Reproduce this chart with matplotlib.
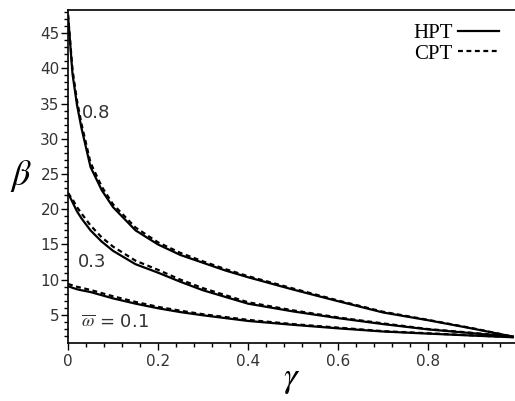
import matplotlib
matplotlib.use("Agg")
import matplotlib.pyplot as plt
from matplotlib.lines import Line2D
from matplotlib.ticker import MultipleLocator

# values
gamma = [0, 0.01, 0.02, 0.03, 0.05, 0.075, 0.1, 0.15, 0.2, 0.25, 0.3, 0.35, 0.4,
         0.5, 0.6, 0.7, 0.8, 0.9, 0.99]

hpt_08 = [47.6, 39.2, 34.8, 31.5, 26.0, 22.7, 20.3, 17.0, 15.0, 13.5, 12.4, 11.3, 10.35,
          8.6, 6.95, 5.35, 4.25, 3.05, 1.9]
cpt_08 = [47.6, 39.8, 35.4, 32.1, 26.6, 23.2, 20.7, 17.4, 15.3, 13.8, 12.6, 11.5, 10.5,
          8.75, 7.05, 5.45, 4.3, 3.1, 1.9]

hpt_03 = [22.3, 21.0, 19.7, 18.7, 17.0, 15.4, 14.1, 12.2, 11.0, 9.7, 8.5, 7.55, 6.6,
          5.5, 4.55, 3.7, 2.95, 2.4, 1.9]
cpt_03 = [22.3, 21.4, 20.3, 19.4, 17.7, 16.0, 14.7, 12.7, 11.4, 10.0, 8.8, 7.8, 6.8,
          5.65, 4.65, 3.8, 3.0, 2.45, 1.9]

hpt_01 = [9.1, 8.85, 8.65, 8.5, 8.25, 7.8, 7.35, 6.6, 5.95, 5.4, 4.95, 4.55, 4.15,
          3.6, 3.1, 2.65, 2.35, 2.07, 1.83]
cpt_01 = [9.4, 9.2, 9.0, 8.85, 8.55, 8.1, 7.65, 6.85, 6.15, 5.6, 5.1, 4.7, 4.3,
          3.7, 3.2, 2.7, 2.4, 2.1, 1.85]

curve_labels = ["0.8", "0.3", r"$\overline{\omega}$ = 0.1"]
label_pos = [(0.031, 33.7), (0.022, 12.5), (0.029, 4.0)]

plt.rcParams["mathtext.fontset"] = "stix"

fig = plt.figure(figsize=(5.15, 4.01), dpi=100)
ax = fig.add_axes([68 / 515, 1 - 343 / 401, 447 / 515, 333 / 401])

dash = (0, (2.2, 1.6))
for hpt, cpt in [(hpt_08, cpt_08), (hpt_03, cpt_03), (hpt_01, cpt_01)]:
    ax.plot(gamma, hpt, color="black", lw=1.6, solid_capstyle="butt")
    ax.plot(gamma, cpt, color="black", lw=1.6, ls=dash)

for txt, (x, y) in zip(curve_labels, label_pos):
    ax.text(x, y, txt, fontsize=13, color="#333333", va="center", ha="left",
            family="DejaVu Sans")

ax.set_xlim(0, 0.993)
ax.set_ylim(1.02, 48.27)

ax.xaxis.set_minor_locator(MultipleLocator(0.04))
ax.yaxis.set_minor_locator(MultipleLocator(1))
ax.set_xticks([0, 0.2, 0.4, 0.6, 0.8])
ax.set_xticklabels(["0", "0.2", "0.4", "0.6", "0.8"])
ax.set_yticks([5, 10, 15, 20, 25, 30, 35, 40, 45])
ax.tick_params(which="major", direction="out", length=5, width=1, labelsize=11,
               labelcolor="#333333")
ax.tick_params(which="minor", direction="out", length=3, width=1)
ax.tick_params(axis="y", pad=1)
ax.tick_params(axis="x", pad=3)

ax.spines["right"].set_visible(False)
for s in ["left", "bottom", "top"]:
    ax.spines[s].set_linewidth(1.2)

ax.set_xlabel(r"$\gamma$", fontsize=25, labelpad=-5)
ax.set_ylabel(r"$\beta$", fontsize=26, rotation=0, labelpad=14, va="center")

# legend: label text first, then the line sample
handles = [Line2D([], [], color="black", lw=1.6),
           Line2D([], [], color="black", lw=1.6, ls=dash)]
ax.legend(handles, ["HPT", "CPT"], markerfirst=False, frameon=False,
          loc="upper right", bbox_to_anchor=(0.965, 0.96), borderaxespad=0,
          borderpad=0, handlelength=2.0, handletextpad=0.25, labelspacing=0.05,
          prop={"family": "Liberation Serif", "size": 15})

fig.savefig("out.png", dpi=100)
